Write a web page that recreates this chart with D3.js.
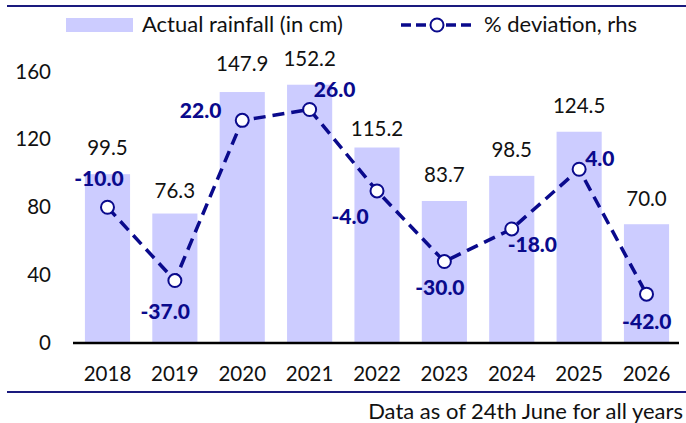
<!DOCTYPE html>
<html><head><meta charset="utf-8">
<script src="https://cdn.jsdelivr.net/npm/d3@7"></script>
<style>
html,body{margin:0;padding:0;background:#fff;}
svg{display:block;font-family:Lato,"Noto Sans",sans-serif;}
</style></head>
<body>
<svg id="chart" width="686" height="423"></svg>
<script>
// ---- data ----
const years = ["2018","2019","2020","2021","2022","2023","2024","2025","2026"];
const rainfall = [99.5, 76.3, 147.9, 152.2, 115.2, 83.7, 98.5, 124.5, 70.0];
const deviation = [-10.0, -37.0, 22.0, 26.0, -4.0, -30.0, -18.0, 4.0, -42.0];
const leftTicks = [0, 40, 80, 120, 160];
const seriesNames = ["Actual rainfall (in cm)", "% deviation, rhs"];
const footnote = "Data as of 24th June for all years";

// ---- label placement (style) ----
const devLabelOffsets = [[-8.6,-29],[-9.7,30.5],[-41.6,-10.4],[25,-20.5],[-27,25.2],[-4.5,25.7],[20.6,15.5],[20.7,-10.7],[0.3,27.4]];
const barLabelGaps = [19,16,21,19,12,19,18.5,18.4,18.2];

const BAR = "#ccccff", NAVY = "#0a0a8c", BORDER = "#1a1a7e";
const svg = d3.select("#chart");

const x = d3.scaleBand().domain(years).range([73.8, 680.2]).paddingInner(0.33).paddingOuter(0.165);
const yL = d3.scaleLinear().domain([0,160]).range([343, 71.5]);
const yR = d3.scaleLinear().domain([-60,40]).range([343, 71.5]);

// border lines
svg.append("line").attr("x1",7).attr("x2",686).attr("y1",6).attr("y2",6).attr("stroke",BORDER).attr("stroke-width",2);
svg.append("line").attr("x1",7).attr("x2",686).attr("y1",392).attr("y2",392).attr("stroke",BORDER).attr("stroke-width",2);

// bars
svg.selectAll("rect.bar").data(rainfall).join("rect").attr("class","bar")
  .attr("x",(d,i)=>x(years[i])).attr("width",x.bandwidth())
  .attr("y",d=>yL(d)).attr("height",d=>yL(0)-yL(d)).attr("fill",BAR);

// bar labels
svg.selectAll("text.blab").data(rainfall).join("text").attr("class","blab")
  .attr("x",(d,i)=>x(years[i])+x.bandwidth()/2).attr("y",(d,i)=>yL(d)-barLabelGaps[i])
  .attr("text-anchor","middle").attr("font-size",20.5).attr("fill","#111")
  .text(d=>d.toFixed(1));

// left axis (labels only)
const ax = d3.axisLeft(yL).tickValues(leftTicks).tickSize(0).tickPadding(0).tickFormat(d3.format("d"));
const gA = svg.append("g").attr("transform","translate(51,0)").call(ax);
gA.select(".domain").remove();
gA.selectAll("text").attr("font-size",20.5).attr("font-family","Lato").attr("fill","#111");

// x axis
const xa = d3.axisBottom(x).tickSize(0).tickPadding(0);
const gX = svg.append("g").attr("transform","translate(0,343)").call(xa);
gX.select(".domain").remove();
gX.selectAll("text").attr("font-size",20.5).attr("font-family","Lato").attr("fill","#111").attr("dy",null).attr("y",38);
svg.append("line").attr("x1",73).attr("x2",679).attr("y1",yL(0)).attr("y2",yL(0)).attr("stroke","#000").attr("stroke-width",2.5);

// deviation line
const cx = (i)=>x(years[i])+x.bandwidth()/2;
const line = d3.line().x((d,i)=>cx(i)).y(d=>yR(d));
svg.append("path").datum(deviation).attr("d",line).attr("fill","none")
  .attr("stroke",NAVY).attr("stroke-width",3.5).attr("stroke-dasharray","12,7");
svg.selectAll("circle.pt").data(deviation).join("circle").attr("class","pt")
  .attr("cx",(d,i)=>cx(i)).attr("cy",d=>yR(d)).attr("r",6.5)
  .attr("fill","#fff").attr("stroke",NAVY).attr("stroke-width",2);
svg.selectAll("text.dlab").data(deviation).join("text").attr("class","dlab")
  .attr("x",(d,i)=>cx(i)+devLabelOffsets[i][0]).attr("y",(d,i)=>yR(d)+devLabelOffsets[i][1])
  .attr("dy","0.36em").attr("text-anchor","middle").attr("font-size",21).attr("font-weight",900)
  .attr("fill",NAVY).text(d=>d.toFixed(1));

// legend
svg.append("rect").attr("x",66).attr("y",18).attr("width",67).attr("height",14).attr("fill",BAR);
svg.append("text").attr("x",142).attr("y",32).attr("font-size",22).attr("fill","#111").text(seriesNames[0]);
svg.append("line").attr("x1",401).attr("x2",472).attr("y1",25).attr("y2",25)
  .attr("stroke",NAVY).attr("stroke-width",3.5).attr("stroke-dasharray","10,5");
svg.append("circle").attr("cx",437).attr("cy",25).attr("r",6.5).attr("fill","#fff").attr("stroke",NAVY).attr("stroke-width",2);
svg.append("text").attr("x",484).attr("y",32).attr("font-size",22).attr("fill","#111").text(seriesNames[1]);

// footnote
svg.append("text").attr("x",683).attr("y",419).attr("text-anchor","end").attr("font-size",22).attr("fill","#111").text(footnote);
</script>
</body></html>
